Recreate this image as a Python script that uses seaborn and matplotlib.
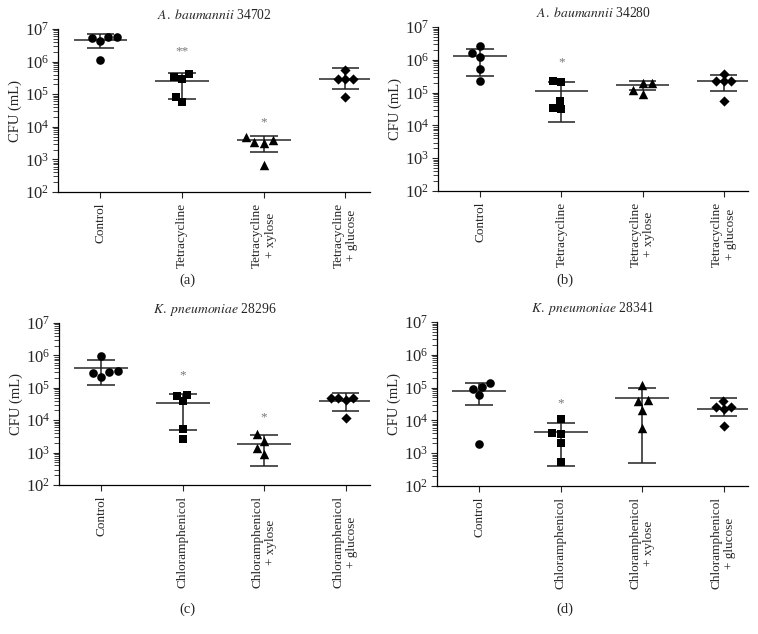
import matplotlib
matplotlib.use("Agg")
import matplotlib.pyplot as plt
import seaborn as sns
import pandas as pd
from matplotlib.ticker import LogLocator, LogFormatterMathtext, NullFormatter

# ---------------- data ----------------
cats_tet = ["Control", "Tetracycline", "Tetracycline\n+ xylose", "Tetracycline\n+ glucose"]
cats_chl = ["Control", "Chloramphenicol", "Chloramphenicol\n+ xylose", "Chloramphenicol\n+ glucose"]

titles = [r"$\it{A.\ baumannii}$ 34702", r"$\it{A.\ baumannii}$ 34280",
          r"$\it{K.\ pneumoniae}$ 28296", r"$\it{K.\ pneumoniae}$ 28341"]
panel_tags = ["(a)", "(b)", "(c)", "(d)"]

# panel (a)
a_control = [5.6e6, 5.3e6, 4.2e6, 5.6e6, 1.1e6]
a_drug = [3.3e5, 2.9e5, 4.2e5, 8.1e4, 5.6e4]
a_xylose = [4.7e3, 3.3e3, 3.2e3, 3.8e3, 6.6e2]
a_glucose = [2.9e5, 2.9e5, 5.4e5, 3.0e5, 8.1e4]
a_mean = [4.7e6, 2.6e5, 3.8e3, 3.0e5]
a_upper = [6.8e6, 4.5e5, 5.2e3, 6.3e5]
a_lower = [2.7e6, 7.3e4, 1.66e3, 1.4e5]
a_stars = ["", "**", "*", ""]
a_star_y = [None, 2.7e6, 1.8e4, None]

# panel (b)
b_control = [2.6e6, 1.6e6, 1.2e6, 5.4e5, 2.2e5]
b_drug = [2.2e5, 2.1e5, 5.6e4, 3.2e4, 3.5e4]
b_xylose = [1.9e5, 1.95e5, 9.2e4, 1.2e5]
b_glucose = [2.2e5, 3.8e5, 2.2e5, 2.2e5, 5.6e4]
b_mean = [1.3e6, 1.15e5, 1.7e5, 2.2e5]
b_upper = [2.1e6, 2.1e5, 2.3e5, 3.5e5]
b_lower = [3.3e5, 1.3e4, 1.2e5, 1.1e5]
b_stars = ["", "*", "", ""]
b_star_y = [None, 1.1e6, None, None]

# panel (c)
c_control = [3.0e5, 2.2e5, 9.5e5, 2.8e5, 3.2e5]
c_drug = [6.2e4, 3.8e4, 5.6e4, 5.4e3, 2.6e3]
c_xylose = [1.4e3, 2.3e3, 9.1e2, 3.7e3]
c_glucose = [4.9e4, 4.9e4, 4.2e4, 4.9e4, 1.15e4]
c_mean = [4.2e5, 3.4e4, 1.86e3, 3.9e4]
c_upper = [7.2e5, 6.3e4, 3.4e3, 6.9e4]
c_lower = [1.2e5, 5.0e3, 3.9e2, 1.9e4]
c_stars = ["", "*", "*", ""]
c_star_y = [None, 3.3e5, 1.66e4, None]

# panel (d)
d_control = [9.1e4, 1.4e5, 5.8e4, 1.03e5, 1.95e3]
d_drug = [1.1e4, 3.9e3, 4.1e3, 2.1e3, 5.3e2]
d_xylose = [1.2e5, 3.8e4, 4.1e4, 2.1e4, 5.8e3]
d_glucose = [2.3e4, 2.5e4, 3.8e4, 2.5e4, 6.6e3]
d_mean = [8.1e4, 4.3e3, 4.9e4, 2.2e4]
d_upper = [1.37e5, 8.1e3, 9.4e4, 4.8e4]
d_lower = [2.9e4, 4.1e2, 5.1e2, 1.4e4]
d_stars = ["", "*", "", ""]
d_star_y = [None, 4.6e4, None, None]

# ---------------- style ----------------
sns.set_style("ticks")
plt.rcParams["font.family"] = ["Liberation Serif", "DejaVu Serif"]
plt.rcParams["mathtext.fontset"] = "stix"
plt.rcParams["font.size"] = 9.5

markers = ["o", "s", "^", "D"]
msizes = [6.2, 5.8, 6.8, 5.2]

fig = plt.figure(figsize=(7.58, 6.34), dpi=100)
W, H = 758.0, 634.0


def px_axes(l, r, t, b):
    return fig.add_axes([l / W, 1 - b / H, (r - l) / W, (b - t) / H])


panels = [
    (px_axes(58, 370, 29, 192), cats_tet, [a_control, a_drug, a_xylose, a_glucose],
     a_mean, a_upper, a_lower, a_stars, a_star_y),
    (px_axes(438, 748, 27, 191), cats_tet, [b_control, b_drug, b_xylose, b_glucose],
     b_mean, b_upper, b_lower, b_stars, b_star_y),
    (px_axes(59, 370, 323, 485), cats_chl, [c_control, c_drug, c_xylose, c_glucose],
     c_mean, c_upper, c_lower, c_stars, c_star_y),
    (px_axes(437, 748, 322, 486), cats_chl, [d_control, d_drug, d_xylose, d_glucose],
     d_mean, d_upper, d_lower, d_stars, d_star_y),
]
tag_pos = [(187, 280), (565, 280), (187, 609), (565, 609)]

for i, (ax, cats, groups, mean, upper, lower, stars, star_y) in enumerate(panels):
    for k, (cat, vals) in enumerate(zip(cats, groups)):
        df = pd.DataFrame({"group": [cat] * len(vals), "cfu": vals})
        sns.swarmplot(data=df, x="group", y="cfu", order=cats, ax=ax,
                      marker=markers[k], size=msizes[k], color="black",
                      linewidth=0, log_scale=True, warn_thresh=1)
    xs = list(range(len(cats)))
    ax.hlines(mean, [x - 0.33 for x in xs], [x + 0.33 for x in xs],
              color="#555555", lw=1.4, zorder=1)
    ax.vlines(xs, lower, upper, color="#222222", lw=1.1, zorder=1)
    ax.hlines(upper, [x - 0.17 for x in xs], [x + 0.17 for x in xs],
              color="#222222", lw=1.1, zorder=1)
    ax.hlines(lower, [x - 0.17 for x in xs], [x + 0.17 for x in xs],
              color="#222222", lw=1.1, zorder=1)
    for x, s, y in zip(xs, stars, star_y):
        if s:
            ax.annotate(s, (x, y), xytext=(0, -3), textcoords="offset points",
                        ha="center", va="center", color="#777777", fontsize=9.5)

    ax.set_yscale("log")
    ax.set_ylim(1e2, 1e7)
    ax.set_xlim(-0.52, 3.3)
    ax.yaxis.set_major_locator(LogLocator(base=10, numticks=10))
    ax.yaxis.set_major_formatter(LogFormatterMathtext())
    ax.yaxis.set_minor_locator(LogLocator(base=10, subs=range(2, 10), numticks=20))
    ax.yaxis.set_minor_formatter(NullFormatter())
    ax.set_xticks(xs)
    ax.set_xticklabels(cats, rotation=90, ha="center", va="top", fontsize=9.5)
    ax.tick_params(axis="y", which="major", length=4.3, width=0.8, labelsize=12, pad=2)
    ax.tick_params(axis="y", which="minor", length=3.4, width=0.6)
    ax.tick_params(axis="x", which="major", length=4, width=0.8, pad=4)
    ax.set_xlabel("")
    ax.set_ylabel("CFU (mL)", fontsize=10.5, labelpad=2)
    for side in ["top", "right"]:
        ax.spines[side].set_visible(False)
    for side in ["left", "bottom"]:
        ax.spines[side].set_linewidth(0.9)
        ax.spines[side].set_color("black")
    ax.set_title(titles[i], fontsize=9.8, pad=7)
    fig.text(tag_pos[i][0] / W, 1 - tag_pos[i][1] / H, panel_tags[i],
             ha="center", va="center", fontsize=10.5)

fig.savefig("out.png", dpi=100)
